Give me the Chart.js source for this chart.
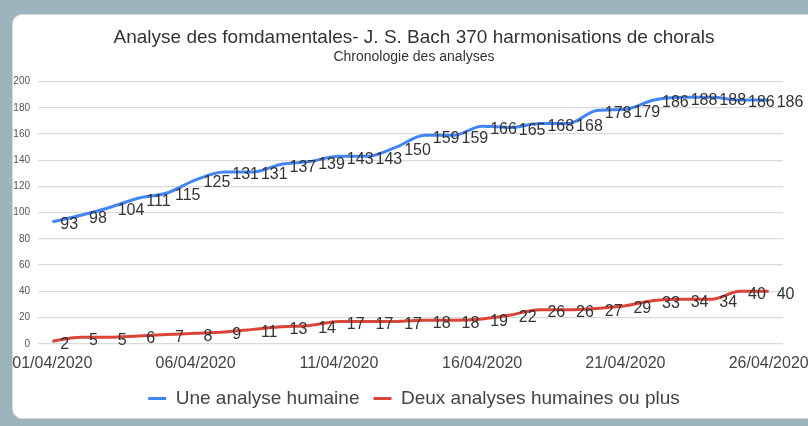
<!DOCTYPE html>
<html>
<head>
<meta charset="utf-8">
<script src="https://cdn.jsdelivr.net/npm/chart.js@4/dist/chart.umd.min.js"></script>
<style>
  html, body { margin: 0; padding: 0; }
  body { width: 808px; height: 426px; background: #9db4bc; position: relative; overflow: hidden; }
  #card {
    position: absolute; left: 12px; top: 14px; width: 830px; height: 403px;
    background: #fff; border: 1px solid #d8d8d8; border-radius: 10px;
  }
  #chart { position: absolute; left: 8px; top: 0; }
</style>
</head>
<body>
<div id="card"></div>
<canvas id="chart" width="812" height="426"></canvas>
<script>
// Dates (one point per day)
const dates = [
    '01/04/2020', '02/04/2020', '03/04/2020', '04/04/2020', '05/04/2020',
    '06/04/2020', '07/04/2020', '08/04/2020', '09/04/2020', '10/04/2020',
    '11/04/2020', '12/04/2020', '13/04/2020', '14/04/2020', '15/04/2020',
    '16/04/2020', '17/04/2020', '18/04/2020', '19/04/2020', '20/04/2020',
    '21/04/2020', '22/04/2020', '23/04/2020', '24/04/2020', '25/04/2020',
    '26/04/2020',
];

// Series values
const uneAnalyse = [93, 98, 104, 111, 115, 125, 131, 131, 137, 139, 143, 143, 150,
    159, 159, 166, 165, 168, 168, 178, 179, 186, 188, 188, 186, 186];
const deuxAnalyses = [2, 5, 5, 6, 7, 8, 9, 11, 13, 14, 17, 17, 17,
    18, 18, 19, 22, 26, 26, 27, 29, 33, 34, 34, 40, 40];

const seriesNames = ['Une analyse humaine', 'Deux analyses humaines ou plus'];
const yTicks = [0, 20, 40, 60, 80, 100, 120, 140, 160, 180, 200];

Chart.defaults.font.family = "'Liberation Sans', Arial, sans-serif";

// Writes each value just to the right of its point
const valueLabels = {
    id: 'valueLabels',
    afterDatasetsDraw(chart) {
        const ctx = chart.ctx;
        ctx.save();
        ctx.font = "16px 'Liberation Sans', Arial, sans-serif";
        ctx.fillStyle = '#333333';
        ctx.textAlign = 'left';
        ctx.textBaseline = 'middle';
        chart.data.datasets.forEach((ds, i) => {
            const meta = chart.getDatasetMeta(i);
            meta.data.forEach((pt, j) => {
                ctx.fillText(String(ds.data[j]), pt.x + 8, pt.y + 3);
            });
        });
        ctx.restore();
    },
};

const ctx = document.getElementById('chart').getContext('2d');

new Chart(ctx, {
    type: 'line',
    data: {
        labels: dates,
        datasets: [
            {
                label: seriesNames[0],
                data: uneAnalyse,
                borderColor: '#4285f4',
                backgroundColor: '#4285f4',
                borderWidth: 3,
                pointRadius: 0,
                cubicInterpolationMode: 'monotone',
            },
            {
                label: seriesNames[1],
                data: deuxAnalyses,
                borderColor: '#db4437',
                backgroundColor: '#db4437',
                borderWidth: 3,
                pointRadius: 0,
                cubicInterpolationMode: 'monotone',
            },
        ],
    },
    options: {
        responsive: false,
        animation: false,
        devicePixelRatio: 1,
        layout: {
            padding: { left: 0, right: 0, top: 0, bottom: 8 },
        },
        plugins: {
            title: {
                display: true,
                text: 'Analyse des fomdamentales- J. S. Bach 370 harmonisations de chorals',
                color: '#333333',
                font: { size: 19, weight: 'normal' },
                padding: { top: 26, bottom: 0 },
            },
            subtitle: {
                display: true,
                text: 'Chronologie des analyses',
                color: '#333333',
                font: { size: 14 },
                padding: { top: 0, bottom: 16 },
            },
            legend: {
                position: 'bottom',
                labels: {
                    usePointStyle: true,
                    pointStyle: 'line',
                    pointStyleWidth: 18,
                    color: '#444444',
                    font: { size: 19 },
                    padding: 14,
                },
            },
            tooltip: { enabled: false },
        },
        scales: {
            x: {
                offset: true,
                grid: { display: false },
                border: { display: false },
                ticks: {
                    autoSkip: false,
                    maxRotation: 0,
                    color: '#444444',
                    font: { size: 16 },
                    padding: 2,
                    callback: (v, i) => (i % 5 === 0 ? dates[i] : ''),
                },
            },
            y: {
                min: yTicks[0],
                max: yTicks[yTicks.length - 1],
                afterFit: (scale) => { scale.width = 30; },
                afterBuildTicks: (scale) => { scale.ticks = yTicks.map((v) => ({ value: v })); },
                grid: { color: '#dadada', lineWidth: 1.3, drawTicks: false },
                border: { display: false },
                ticks: {
                    color: '#555555',
                    font: { size: 10 },
                    padding: 8,
                },
            },
            // empty right-hand margin so the plot ends before the labels of the last day
            yRight: {
                type: 'linear',
                position: 'right',
                afterFit: (scale) => { scale.width = 37; },
                grid: { display: false },
                border: { display: false },
                ticks: { display: false },
            },
        },
    },
    plugins: [valueLabels],
});
</script>
</body>
</html>
